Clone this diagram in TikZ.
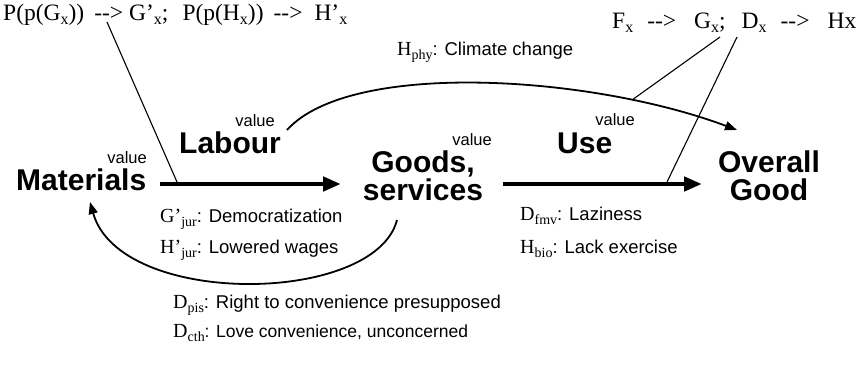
\documentclass[tikz,border=0pt]{standalone}
\usepackage{fontspec}
\setmainfont{Liberation Serif}
\setsansfont{Liberation Sans}
\usetikzlibrary{arrows.meta}

% serif symbol with a lowered, smaller serif index
\newcommand{\gsym}[2]{{\rmfamily\fontsize{20}{24}\selectfont #1\raisebox{-4.5pt}{\fontsize{14}{16}\selectfont #2}}}
% lowered index for the formula lines
\newcommand{\tsub}[1]{\raisebox{-4pt}{\fontsize{16}{18}\selectfont #1}}
\newcommand{\too}{-{}->}

\tikzset{
  big/.style={font=\fontsize{30}{28}\selectfont\sffamily\bfseries, inner sep=0pt, align=center},
  val/.style={font=\fontsize{16.5}{18}\selectfont\sffamily, inner sep=0pt, anchor=base east},
  lbl/.style={font=\fontsize{18.5}{20}\selectfont\sffamily, inner sep=0pt, anchor=base west},
  formula/.style={font=\rmfamily\fontsize{23.5}{26}\selectfont, inner sep=0pt, anchor=base west},
  flow/.style={line width=4.5pt, -{Triangle[length=18pt,width=14pt]}},
  loop/.style={line width=1.8pt, -{Triangle[length=12pt,width=9pt]}},
  link/.style={line width=1.1pt},
}

\begin{document}
\begin{tikzpicture}[x=1pt, y=-1pt]
  \useasboundingbox[fill=white] (0,0) rectangle (856,370);

  % main stages
  \node[big, anchor=base west] (mat) at (16,190) {Materials};
  \node[big, anchor=base west] (lab) at (179,153) {Labour};
  \node[big, anchor=base] (goods) at (423,200) {Goods,\\services};
  \node[big, anchor=base west] (use) at (557,153) {Use};
  \node[big, anchor=base] (good) at (769,200) {Overall\\Good};

  % value tags
  \node[val] (vmat) at (147,163) {value};
  \node[val] (vlab) at (275,126) {value};
  \node[val] (vgoods) at (492,145) {value};
  \node[val] (vuse) at (635,125) {value};

  % formula lines
  \node[formula] (pp) at (3,20) {P(p(G\tsub{x}))\hspace{10pt}\too\hspace{6pt}G’\tsub{x};\hspace{14pt}P(p(H\tsub{x}))\hspace{10pt}\too\hspace{12pt}H’\tsub{x}};
  \node[formula] (fg) at (612,28) {F\tsub{x}\hspace{14pt}\too\hspace{18pt}G\tsub{x};\hspace{16pt}D\tsub{x}\hspace{14pt}\too\hspace{18pt}Hx};

  % effect labels
  \node[lbl] (hphy) at (397,55) {\gsym{H}{phy}: Climate change};
  \node[lbl] (gjur) at (160,222) {\gsym{G’}{jur}: Democratization};
  \node[lbl] (hjur) at (160,253) {\gsym{H’}{jur}: Lowered wages};
  \node[lbl] (dfmv) at (520,220) {\gsym{D}{fmv}: Laziness};
  \node[lbl] (hbio) at (520,253) {\gsym{H}{bio}: Lack exercise};
  \node[lbl] (dpis) at (173,308) {\gsym{D}{pis}: Right to convenience presupposed};
  \node[lbl, font=\fontsize{17.5}{20}\selectfont\sffamily] (dcth) at (173,337) {\gsym{D}{cth}: Love convenience, unconcerned};

  % connector ends
  \coordinate (f1s) at (160,184);
  \coordinate (f1e) at (341,184);
  \coordinate (f2s) at (503,184);
  \coordinate (f2e) at (702,184);
  \coordinate (labout) at (287,130);
  \coordinate (goodin) at (737,130);
  \coordinate (goodsout) at (397,220);
  \coordinate (matin) at (90,202);
  \coordinate (ppfoot) at (107,22);
  \coordinate (f1hit) at (177,182);
  \coordinate (fgfootA) at (720,37);
  \coordinate (curvehit) at (632,100);
  \coordinate (fgfootB) at (737,37);
  \coordinate (f2hit) at (667,182);

  % main flow
  \draw[flow] (f1s) -- (f1e);
  \draw[flow] (f2s) -- (f2e);

  % feedback curves
  \draw[loop] (labout) .. controls (350,60) and (590,75) .. (goodin);
  \draw[loop] (goodsout) .. controls (375,305) and (120,308) .. (matin);

  % thin links
  \draw[link] (ppfoot) -- (f1hit);
  \draw[link] (fgfootA) -- (curvehit);
  \draw[link] (fgfootB) -- (f2hit);
\end{tikzpicture}
\end{document}
